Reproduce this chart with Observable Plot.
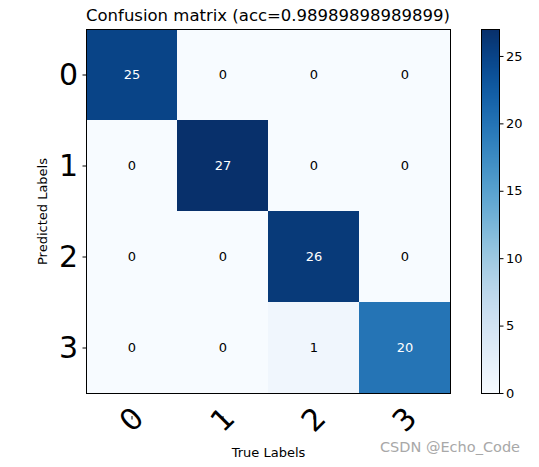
<!DOCTYPE html>
<html>
<head>
<meta charset="utf-8">
<script src="https://cdn.jsdelivr.net/npm/d3@7"></script>
<script src="https://cdn.jsdelivr.net/npm/@observablehq/plot@0.6"></script>
<style>
  html, body { margin: 0; padding: 0; background: #fff; }
  #wrap { position: relative; width: 539px; height: 467px; font-family: "DejaVu Sans", sans-serif; }
  #wrap > svg { position: absolute; left: 0; top: 0; }
  .ttl { position: absolute; left: 86px; width: 364px; top: 6px; text-align: center; font-size: 16.5px; line-height: 20px; color: #000; white-space: nowrap; }
  .wm { position: absolute; left: 380px; top: 439px; font-size: 14.5px; color: #a8a8a8; white-space: nowrap; }
</style>
</head>
<body>
<div id="wrap">
  <div class="ttl">Confusion matrix (acc=0.98989898989899)</div>
  <div class="wm">CSDN @Echo_Code</div>
</div>
<script>
const labels = ["0", "1", "2", "3"];
// rows = predicted, columns = true
const matrix = [
  [25, 0, 0, 0],
  [0, 27, 0, 0],
  [0, 0, 26, 0],
  [0, 0, 1, 20]
];
const colorTicks = [0, 5, 10, 15, 20, 25];
const vmax = 27;

const cells = [];
matrix.forEach((row, i) => row.forEach((v, j) => cells.push({pred: labels[i], tru: labels[j], value: v})));

const W = 539, H = 467;
const main = Plot.plot({
  width: W, height: H,
  marginLeft: 86, marginRight: 89, marginTop: 29, marginBottom: 74,
  style: {fontFamily: "DejaVu Sans, sans-serif", background: "transparent"},
  x: {domain: labels, padding: 0, label: null},
  y: {domain: labels, padding: 0, label: null},
  color: {type: "linear", domain: [0, vmax], interpolate: d3.interpolateBlues},
  marks: [
    Plot.cell(cells, {x: "tru", y: "pred", fill: "value", inset: 0}),
    Plot.text(cells, {x: "tru", y: "pred", text: d => String(d.value), fontSize: 13,
      fill: d => d.value > vmax / 2 ? "white" : "black"}),
    Plot.frame({stroke: "black", strokeWidth: 1}),
    Plot.axisX({tickSize: 3.5, tickPadding: 0, fontSize: 30, tickRotate: -45, textAnchor: "middle", lineAnchor: "middle", dy: 23, label: null}),
    Plot.axisY({tickSize: 3.5, tickPadding: 5, fontSize: 30, label: null}),
    Plot.text(["True Labels"], {frameAnchor: "bottom", dy: 63, fontSize: 13}),
    Plot.text(["Predicted Labels"], {frameAnchor: "left", dx: -44, rotate: -90, textAnchor: "middle", fontSize: 13})
  ]
});
document.getElementById("wrap").appendChild(main);

// colorbar
const cbar = Plot.plot({
  width: W, height: H,
  marginLeft: 481, marginRight: 40, marginTop: 29, marginBottom: 74,
  style: {fontFamily: "DejaVu Sans, sans-serif", background: "transparent"},
  x: {axis: null, domain: [0, 1]},
  y: {domain: [0, vmax], label: null},
  color: {type: "linear", domain: [0, vmax], interpolate: d3.interpolateBlues},
  marks: [
    Plot.raster({x1: 0, x2: 1, y1: 0, y2: vmax, width: 1, height: 364, fill: (x, y) => y, imageRendering: "auto"}),
    Plot.frame({stroke: "black", strokeWidth: 1}),
    Plot.axisY({anchor: "right", ticks: colorTicks, tickSize: 3.5, tickPadding: 3, fontSize: 13, label: null})
  ]
});
document.getElementById("wrap").appendChild(cbar);
</script>
</body>
</html>
